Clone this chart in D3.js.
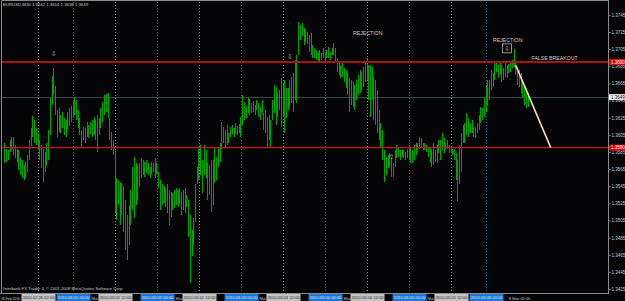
<!DOCTYPE html>
<html>
<head>
<meta charset="utf-8">
<script src="https://cdn.jsdelivr.net/npm/d3@7"></script>
<style>
body { margin: 0; background: #000; }
svg { display: block; }
text { font-family: "Liberation Sans", Arial, sans-serif; }
</style>
</head>
<body>
<div id="chart"></div>
<script>
// EURUSD M30 bars, 26 Feb 2010 02:30 -> 8 Mar 2010 12:00 (bar index 0..299)
var highs = [
  1.3595,1.3589,1.3587,1.3599,1.3603,1.3602,1.3593,1.3589,1.3587,1.3578,
  1.3576,1.3570,1.3573,1.3582,1.3599,1.3613,1.3627,1.3622,1.3613,1.3607,
  1.3599,1.3593,1.3589,1.3585,1.3595,1.3611,1.3648,1.3674,1.3683,1.3662,
  1.3634,1.3636,1.3628,1.3632,1.3625,1.3622,1.3632,1.3636,1.3639,1.3646,
  1.3649,1.3646,1.3634,1.3625,1.3611,1.3614,1.3613,1.3620,1.3617,1.3620,
  1.3622,1.3626,1.3622,1.3628,1.3625,1.3636,1.3643,1.3652,1.3653,1.3654,
  1.3625,1.3608,1.3599,1.3587,1.3554,1.3552,1.3549,1.3549,1.3545,1.3529,
  1.3511,1.3523,1.3541,1.3567,1.3579,1.3572,1.3570,1.3572,1.3578,1.3576,
  1.3573,1.3576,1.3572,1.3567,1.3573,1.3572,1.3578,1.3572,1.3562,1.3552,
  1.3547,1.3545,1.3543,1.3547,1.3541,1.3538,1.3537,1.3541,1.3543,1.3541,
  1.3543,1.3538,1.3541,1.3543,1.3535,1.3529,1.3511,1.3494,1.3508,1.3547,
  1.3567,1.3589,1.3593,1.3576,1.3593,1.3587,1.3572,1.3570,1.3576,1.3576,
  1.3591,1.3579,1.3591,1.3595,1.3620,1.3614,1.3611,1.3617,1.3607,1.3614,
  1.3617,1.3613,1.3619,1.3615,1.3618,1.3626,1.3652,1.3642,1.3639,1.3648,
  1.3647,1.3642,1.3645,1.3640,1.3646,1.3642,1.3638,1.3646,1.3631,1.3634,
  1.3626,1.3628,1.3622,1.3646,1.3663,1.3661,1.3654,1.3657,1.3671,1.3665,
  1.3669,1.3660,1.3660,1.3669,1.3673,1.3677,1.3692,1.3698,1.3737,1.3733,
  1.3736,1.3730,1.3727,1.3725,1.3722,1.3724,1.3710,1.3706,1.3704,1.3702,
  1.3704,1.3701,1.3706,1.3702,1.3704,1.3708,1.3702,1.3706,1.3712,1.3706,
  1.3695,1.3690,1.3687,1.3689,1.3683,1.3681,1.3677,1.3671,1.3669,1.3667,
  1.3663,1.3669,1.3675,1.3681,1.3678,1.3684,1.3690,1.3695,1.3687,1.3687,
  1.3684,1.3673,1.3669,1.3657,1.3634,1.3619,1.3611,1.3587,1.3579,1.3582,
  1.3584,1.3578,1.3572,1.3587,1.3593,1.3591,1.3587,1.3589,1.3587,1.3585,
  1.3589,1.3593,1.3591,1.3587,1.3593,1.3595,1.3596,1.3602,1.3601,1.3596,
  1.3595,1.3593,1.3591,1.3591,1.3587,1.3595,1.3587,1.3593,1.3599,1.3599,
  1.3607,1.3601,1.3595,1.3599,1.3593,1.3591,1.3589,1.3587,1.3584,1.3576,
  1.3593,1.3607,1.3617,1.3619,1.3631,1.3625,1.3619,1.3622,1.3614,1.3614,
  1.3619,1.3628,1.3638,1.3636,1.3648,1.3663,1.3669,1.3669,1.3681,1.3677,
  1.3689,1.3690,1.3687,1.3689,1.3687,1.3683,1.3689,1.3687,1.3688,1.3689,
  1.3692,1.3705,1.3690,1.3684,1.3681,1.3677,1.3669,1.3661,1.3660,1.3654
];
var lows = [
  1.3572,1.3573,1.3576,1.3585,1.3587,1.3582,1.3578,1.3573,1.3564,1.3558,
  1.3554,1.3552,1.3554,1.3562,1.3576,1.3592,1.3602,1.3595,1.3593,1.3587,
  1.3576,1.3566,1.3550,1.3562,1.3569,1.3576,1.3605,1.3640,1.3652,1.3628,
  1.3602,1.3608,1.3607,1.3613,1.3605,1.3602,1.3611,1.3615,1.3620,1.3625,
  1.3628,1.3622,1.3613,1.3605,1.3591,1.3599,1.3596,1.3602,1.3601,1.3606,
  1.3603,1.3605,1.3599,1.3585,1.3605,1.3613,1.3620,1.3628,1.3632,1.3625,
  1.3599,1.3587,1.3582,1.3515,1.3506,1.3523,1.3500,1.3511,1.3491,1.3471,
  1.3459,1.3476,1.3500,1.3517,1.3508,1.3523,1.3529,1.3544,1.3554,1.3558,
  1.3556,1.3560,1.3558,1.3554,1.3559,1.3562,1.3554,1.3559,1.3543,1.3517,
  1.3523,1.3525,1.3521,1.3514,1.3500,1.3509,1.3517,1.3519,1.3523,1.3521,
  1.3523,1.3511,1.3517,1.3514,1.3521,1.3486,1.3432,1.3463,1.3476,1.3503,
  1.3547,1.3552,1.3558,1.3537,1.3558,1.3554,1.3529,1.3535,1.3515,1.3523,
  1.3549,1.3552,1.3567,1.3573,1.3589,1.3595,1.3591,1.3593,1.3595,1.3602,
  1.3606,1.3603,1.3606,1.3605,1.3607,1.3602,1.3617,1.3622,1.3625,1.3631,
  1.3628,1.3631,1.3632,1.3628,1.3634,1.3626,1.3622,1.3631,1.3611,1.3607,
  1.3591,1.3599,1.3591,1.3622,1.3631,1.3617,1.3626,1.3634,1.3614,1.3626,
  1.3607,1.3625,1.3634,1.3638,1.3642,1.3632,1.3646,1.3642,1.3698,1.3716,
  1.3720,1.3710,1.3713,1.3711,1.3702,1.3698,1.3695,1.3695,1.3692,1.3690,
  1.3690,1.3692,1.3695,1.3690,1.3695,1.3695,1.3692,1.3698,1.3698,1.3690,
  1.3678,1.3675,1.3671,1.3673,1.3667,1.3660,1.3652,1.3632,1.3640,1.3638,
  1.3634,1.3646,1.3652,1.3654,1.3657,1.3661,1.3667,1.3669,1.3646,1.3626,
  1.3646,1.3622,1.3617,1.3607,1.3599,1.3591,1.3576,1.3550,1.3558,1.3566,
  1.3567,1.3556,1.3556,1.3567,1.3578,1.3579,1.3576,1.3579,1.3578,1.3576,
  1.3578,1.3576,1.3572,1.3572,1.3576,1.3582,1.3587,1.3589,1.3591,1.3587,
  1.3587,1.3585,1.3579,1.3572,1.3567,1.3570,1.3573,1.3572,1.3584,1.3576,
  1.3587,1.3584,1.3587,1.3589,1.3584,1.3584,1.3582,1.3576,1.3552,1.3528,
  1.3547,1.3562,1.3595,1.3595,1.3605,1.3602,1.3607,1.3607,1.3602,1.3601,
  1.3607,1.3611,1.3619,1.3622,1.3626,1.3632,1.3640,1.3646,1.3657,1.3661,
  1.3669,1.3678,1.3671,1.3675,1.3667,1.3669,1.3673,1.3671,1.3677,1.3678,
  1.3683,1.3684,1.3675,1.3663,1.3661,1.3654,1.3648,1.3640,1.3636,1.3638
];

var priceTicks = [1.3745,1.3725,1.3705,1.3685,1.3665,1.3645,1.3625,1.3605,1.3585,
  1.3565,1.3545,1.3525,1.3505,1.3485,1.3465,1.3445,1.3425];

// period separators (bar index) and their labels
var gridBars = [19,39,63,87,111,135,159,183,207,231,255,275];
var gridLabels = ["2010.02.26 12:00","2010.03.01 00:00","2010.03.01 12:00","2010.03.02 00:00",
  "2010.03.02 12:00","2010.03.03 00:00","2010.03.03 12:00","2010.03.04 00:00",
  "2010.03.04 12:00","2010.03.05 00:00","2010.03.05 12:00","2010.03.08 00:00"];

// what is left visible of the terminal's own time scale
var timeBars = [0,49,97,145,193,241,287];
var timeLabels = ["26 Feb 2010","Mar","Mar","Mar","Mar","Mar","8 Mar 05:00"];

var levelPrices = [1.3690, 1.3590];
var levelLabels = ["1.3690", "1.3590"];
var bidPrice = 1.3649;

var trendBars = [292, 312];
var trendPrices = [1.3686, 1.3590];

var noteTexts = ["REJECTION", "REJECTION", "FALSE BREAKOUT"];
var noteBars = [199, 279, 301];
var notePrices = [1.3722, 1.3713, 1.3692];

var arrowGlyphs = ["\u21E9", "\u21E9", "\u21E9", "\u21E7"];
var arrowBars = [28, 163, 287, 221];
var arrowPrices = [1.3697, 1.3694, 1.3703, 1.3577];
var arrowBoxed = [false, false, true, false];

var svgWidth = 625, svgHeight = 301;
var axisX = 608, plotBottom = 293;

var svg = d3.select("#chart").append("svg")
  .attr("width", svgWidth)
  .attr("height", svgHeight);

svg.append("rect")
  .attr("width", svgWidth).attr("height", svgHeight)
  .attr("fill", "#050507");

var x = d3.scaleLinear().domain([0, 299]).range([4.75, 528]);
var y = d3.scaleLinear().domain([1.3425, 1.3725]).range([289, 32]);

// period separators
svg.selectAll(".sep")
  .data(gridBars)
  .enter().append("line")
  .attr("class", "sep")
  .attr("x1", d => Math.round(x(d)) + 0.5)
  .attr("x2", d => Math.round(x(d)) + 0.5)
  .attr("y1", 2).attr("y2", plotBottom)
  .attr("stroke", (d, i) => i % 2 == 0 ? "#8c8c8c" : "#1f5c93")
  .attr("stroke-width", 1)
  .attr("stroke-dasharray", "1,2");

// bid line
svg.append("line")
  .attr("x1", 2).attr("x2", axisX)
  .attr("y1", Math.round(y(bidPrice)) + 0.5).attr("y2", Math.round(y(bidPrice)) + 0.5)
  .attr("stroke", "#304848").attr("stroke-width", 1);

// bars
svg.selectAll(".bar")
  .data(highs)
  .enter().append("line")
  .attr("class", "bar")
  .attr("x1", (d, i) => Math.floor(x(i)) + 0.5)
  .attr("x2", (d, i) => Math.floor(x(i)) + 0.5)
  .attr("y1", d => y(d))
  .attr("y2", (d, i) => y(lows[i]))
  .attr("stroke", "#00a400")
  .attr("stroke-width", 1)
  .attr("shape-rendering", "crispEdges");

// horizontal levels
svg.selectAll(".level")
  .data(levelPrices)
  .enter().append("line")
  .attr("class", "level")
  .attr("x1", 2).attr("x2", axisX)
  .attr("y1", d => y(d)).attr("y2", d => y(d))
  .attr("stroke", (d, i) => i == 0 ? "#a81414" : "#c81616")
  .attr("stroke-width", (d, i) => i == 0 ? 2 : 1.3);

// trend line
svg.append("line")
  .attr("x1", x(trendBars[0])).attr("y1", y(trendPrices[0]))
  .attr("x2", x(trendBars[1])).attr("y2", y(trendPrices[1]))
  .attr("stroke", "#f3dcb8").attr("stroke-width", 1.6);

// text notes
svg.selectAll(".note")
  .data(noteTexts)
  .enter().append("text")
  .attr("class", "note")
  .attr("x", (d, i) => x(noteBars[i]))
  .attr("y", (d, i) => y(notePrices[i]))
  .attr("fill", "#c8c8c8")
  .attr("font-size", "5.2px")
  .text(d => d);

// arrows
svg.selectAll(".arrow")
  .data(arrowGlyphs)
  .enter().append("text")
  .attr("class", "arrow")
  .attr("x", (d, i) => x(arrowBars[i]))
  .attr("y", (d, i) => y(arrowPrices[i]))
  .attr("text-anchor", "middle")
  .attr("fill", "#b4b4b4")
  .attr("font-size", "7px")
  .style("font-family", "DejaVu Sans")
  .text(d => d);

svg.selectAll(".abox")
  .data(arrowBars.filter((d, i) => arrowBoxed[i]))
  .enter().append("rect")
  .attr("class", "abox")
  .attr("x", d => x(d) - 4.5)
  .attr("y", (d, i) => y(arrowPrices[2]) - 7)
  .attr("width", 9).attr("height", 9)
  .attr("fill", "none")
  .attr("stroke", "#b4b4b4").attr("stroke-width", 0.8);

// frame
svg.append("path")
  .attr("d", `M1.5,${plotBottom}V0.5H${axisX}`)
  .attr("fill", "none").attr("stroke", "#8a8a8a");
svg.append("line")
  .attr("x1", 0).attr("x2", axisX + 0.5)
  .attr("y1", plotBottom + 0.5).attr("y2", plotBottom + 0.5)
  .attr("stroke", "#8a8a8a");

// price axis
var rightAxis = d3.axisRight(y)
  .tickValues(priceTicks)
  .tickSize(2)
  .tickFormat(d3.format(".4f"));

var axisG = svg.append("g")
  .attr("transform", `translate(${axisX + 0.5}, 0)`)
  .call(rightAxis);
axisG.select(".domain").attr("d", `M0,0V${plotBottom + 1}`).attr("stroke", "#8a8a8a");
axisG.selectAll(".tick line").attr("stroke", "#8a8a8a");
axisG.selectAll(".tick text")
  .attr("x", 3)
  .attr("fill", "#c8c8c8")
  .attr("font-size", "4.5px")
  .style("font-family", "Liberation Sans");

// price tags on the axis
var tagPrices = levelPrices.concat([bidPrice]);
var tagTexts = levelLabels.concat([d3.format(".4f")(bidPrice)]);
var tags = svg.selectAll(".tag")
  .data(tagPrices)
  .enter().append("g")
  .attr("class", "tag")
  .attr("transform", d => `translate(${axisX + 1}, ${y(d)})`);
tags.append("rect")
  .attr("x", 0).attr("y", -3).attr("width", 16).attr("height", 6)
  .attr("fill", (d, i) => i < 2 ? "#e80000" : "#f0f0f0");
tags.append("text")
  .attr("x", 2).attr("y", 1.8)
  .attr("font-size", "4.5px")
  .attr("fill", (d, i) => i < 2 ? "#fff" : "#000")
  .text((d, i) => tagTexts[i]);

// header and copyright
svg.append("text")
  .attr("x", 3).attr("y", 6)
  .attr("fill", "#c8c8c8").attr("font-size", "4.3px")
  .text("EURUSD,M30  1.3642  1.3654  1.3638  1.3649");
svg.append("text")
  .attr("x", 3).attr("y", 290)
  .attr("fill", "#c8c8c8").attr("font-size", "4.2px")
  .text("Interbank FX Trader 4, \u00A9 2001-2008 MetaQuotes Software Corp.");

// time scale
svg.selectAll(".tlab")
  .data(timeLabels)
  .enter().append("text")
  .attr("class", "tlab")
  .attr("x", (d, i) => i == 0 ? 1 : i == timeLabels.length - 1 ? x(timeBars[i]) + 2 : Math.round(x(gridBars[2 * i - 1])) + 18.5)
  .attr("y", 299.5)
  .attr("fill", "#c8c8c8").attr("font-size", "4px")
  .attr("textLength", (d, i) => i == 0 ? 19 : null)
  .attr("lengthAdjust", "spacingAndGlyphs")
  .text(d => d);

var boxes = svg.selectAll(".tbox")
  .data(gridBars)
  .enter().append("g")
  .attr("class", "tbox")
  .attr("transform", d => `translate(${Math.round(x(d)) + 0.5}, 294)`);
boxes.append("rect")
  .attr("x", -17).attr("y", 0).attr("width", 34).attr("height", 7)
  .attr("fill", (d, i) => i % 2 == 0 ? "#c4c4c4" : "#1c78d6");
boxes.append("text")
  .attr("x", 0).attr("y", 5.3)
  .attr("text-anchor", "middle")
  .attr("font-size", "4.1px")
  .attr("fill", (d, i) => i % 2 == 0 ? "#222" : "#e8e8e8")
  .text((d, i) => gridLabels[i]);
</script>
</body>
</html>
